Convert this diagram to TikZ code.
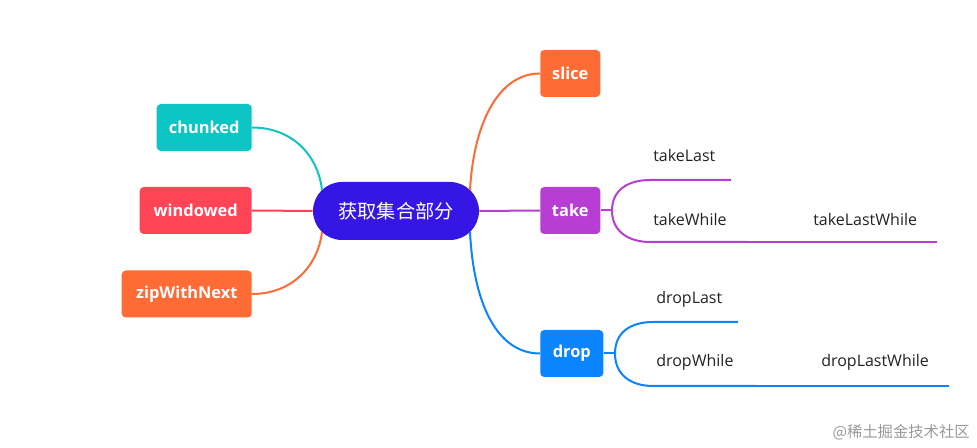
\documentclass[tikz,border=0pt]{standalone}
\usepackage{fontspec}
\setmainfont{Open Sans}
\newfontfamily\cjk{Noto Sans CJK SC}
\definecolor{cmain}{RGB}{54,22,228}
\definecolor{cteal}{RGB}{12,197,196}
\definecolor{cred}{RGB}{255,68,86}
\definecolor{corange}{RGB}{255,107,53}
\definecolor{cpurple}{RGB}{183,61,211}
\definecolor{cblue}{RGB}{10,132,255}
\definecolor{ctext}{RGB}{34,34,34}
\begin{document}
\begin{tikzpicture}[x=0.75pt,y=-0.75pt,
  topic/.style={fill=#1,text=white,rounded corners=3pt,minimum height=35.25pt,inner sep=0pt,
    font=\bfseries\fontsize{12.3}{14}\selectfont},
  conn/.style={draw=#1,line width=1.5pt},
  leaf/.style={text=ctext,inner sep=0pt,font=\fontsize{12}{14}\selectfont,anchor=west},
  wmark/.style={text=black!40,inner sep=0pt,font=\cjk\fontsize{11.5}{14}\selectfont}]
\useasboundingbox (0,0) rectangle (977,448);
% center
\node[fill=cmain,text=white,rounded corners=21.75pt,minimum width=124.5pt,minimum height=43.5pt,inner sep=0pt,
  font=\cjk\fontsize{14.4}{16}\selectfont] (c) at (396,211) {获取集合部分};
% left topics
\node[topic=cteal,minimum width=71.25pt,anchor=east] (chunked) at (252,127.5) {chunked};
\node[topic=cred,minimum width=84pt,anchor=east] (windowed) at (252,210.5) {windowed};
\node[topic=corange,minimum width=97.5pt,anchor=east] (zip) at (252,294) {zipWithNext};
% right topics
\node[topic=corange,minimum width=45pt,anchor=west] (slice) at (540,73.5) {slice};
\node[topic=cpurple,minimum width=45pt,anchor=west] (take) at (540,210.5) {take};
\node[topic=cblue,minimum width=47.25pt,anchor=west] (drop) at (540,353.5) {drop};
% attach points on the center
\coordinate (cl1) at (322,190);
\coordinate (cl2) at (322,232);
\coordinate (cr1) at (470,190);
\coordinate (cr2) at (470,232);
% left connectors
\draw[conn=cteal] (chunked.east) .. controls (292,127.5) and (318,155) .. (cl1);
\draw[conn=cred] (windowed.east) -- (c.west);
\draw[conn=corange] (zip.east) .. controls (292,294) and (318,266) .. (cl2);
% right connectors
\draw[conn=corange] (cr1) .. controls (474,120) and (500,73.5) .. (slice.west);
\draw[conn=cpurple] (c.east) -- (take.west);
\draw[conn=cblue] (cr2) .. controls (474,310) and (500,353.5) .. (drop.west);
% take branch
\coordinate (tb) at (612,210.5);
\coordinate (tle) at (731,180);
\coordinate (twe) at (747,242);
\coordinate (tlwe) at (937,242);
\draw[conn=cpurple] (take.east) -- (tb);
\draw[conn=cpurple] (tb) .. controls (612,190) and (628,180) .. (650,180) -- (tle);
\draw[conn=cpurple] (tb) .. controls (612,231) and (628,242) .. (650,242) -- (twe);
\draw[conn=cpurple] (twe) -- (tlwe);
\node[leaf] (takeLast) at (653,156) {takeLast};
\node[leaf] (takeWhile) at (653,220) {takeWhile};
\node[leaf] (takeLastWhile) at (813,220) {takeLastWhile};
% drop branch
\coordinate (db) at (615,353.5);
\coordinate (dle) at (738,322);
\coordinate (dwe) at (757,386);
\coordinate (dlwe) at (949,386);
\draw[conn=cblue] (drop.east) -- (db);
\draw[conn=cblue] (db) .. controls (615,332) and (631,322) .. (653,322) -- (dle);
\draw[conn=cblue] (db) .. controls (615,375) and (631,386) .. (653,386) -- (dwe);
\draw[conn=cblue] (dwe) -- (dlwe);
\node[leaf] (dropLast) at (656,299) {dropLast};
\node[leaf] (dropWhile) at (656,362) {dropWhile};
\node[leaf] (dropLastWhile) at (821,362) {dropLastWhile};
% watermark
\node[wmark,anchor=east] (wm) at (970,432) {@稀土掘金技术社区};
\end{tikzpicture}
\end{document}
